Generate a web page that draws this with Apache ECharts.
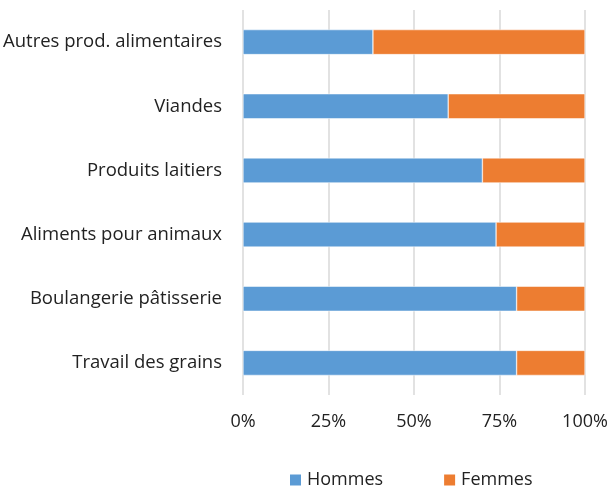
<!DOCTYPE html>
<html>
<head>
<meta charset="utf-8">
<script src="https://cdn.jsdelivr.net/npm/echarts@6/dist/echarts.min.js"></script>
<style>
  html, body { margin: 0; padding: 0; background: #fff; }
  #chart { width: 611px; height: 488px; }
</style>
</head>
<body>
<div id="chart"></div>
<script>
// données (en %)
const categories = [
  'Autres prod. alimentaires',
  'Viandes',
  'Produits laitiers',
  'Aliments pour animaux',
  'Boulangerie pâtisserie',
  'Travail des grains'
]
const hommes = [38, 60, 70, 74, 80, 80]
const femmes = [62, 40, 30, 26, 20, 20]
const ticks = [0, 25, 50, 75, 100]

const font = '"Open Sans", sans-serif'
const chart = echarts.init(document.getElementById('chart'))

chart.setOption({
  animation: false,
  textStyle: { fontFamily: font },
  grid: { left: 243, right: 26, top: 10, bottom: 93 },
  legend: {
    top: 466,
    left: 283,
    icon: 'rect',
    itemWidth: 13,
    itemHeight: 13,
    itemGap: 59,
    textStyle: { fontFamily: font, fontSize: 18, color: '#222' },
    data: ['Hommes', 'Femmes']
  },
  xAxis: {
    type: 'value',
    min: ticks[0],
    max: ticks[ticks.length - 1],
    interval: 25,
    axisLine: { show: false },
    axisTick: { show: false },
    splitLine: { lineStyle: { color: '#d9d9d9', width: 1.5 } },
    axisLabel: {
      margin: 18,
      fontFamily: font,
      fontSize: 18,
      color: '#222',
      formatter: '{value}%'
    }
  },
  yAxis: {
    type: 'category',
    inverse: true,
    data: categories,
    axisLine: { show: false },
    axisTick: { show: false },
    axisLabel: { margin: 21, fontFamily: font, fontSize: 18.5, color: '#222' }
  },
  series: [
    {
      name: 'Hommes',
      type: 'bar',
      stack: 'total',
      barWidth: 25,
      data: hommes,
      itemStyle: { color: '#5b9bd5', borderColor: '#fff', borderWidth: 0.5 }
    },
    {
      name: 'Femmes',
      type: 'bar',
      stack: 'total',
      barWidth: 25,
      data: femmes,
      itemStyle: { color: '#ed7d31', borderColor: '#fff', borderWidth: 0.5 }
    }
  ]
})
</script>
</body>
</html>
